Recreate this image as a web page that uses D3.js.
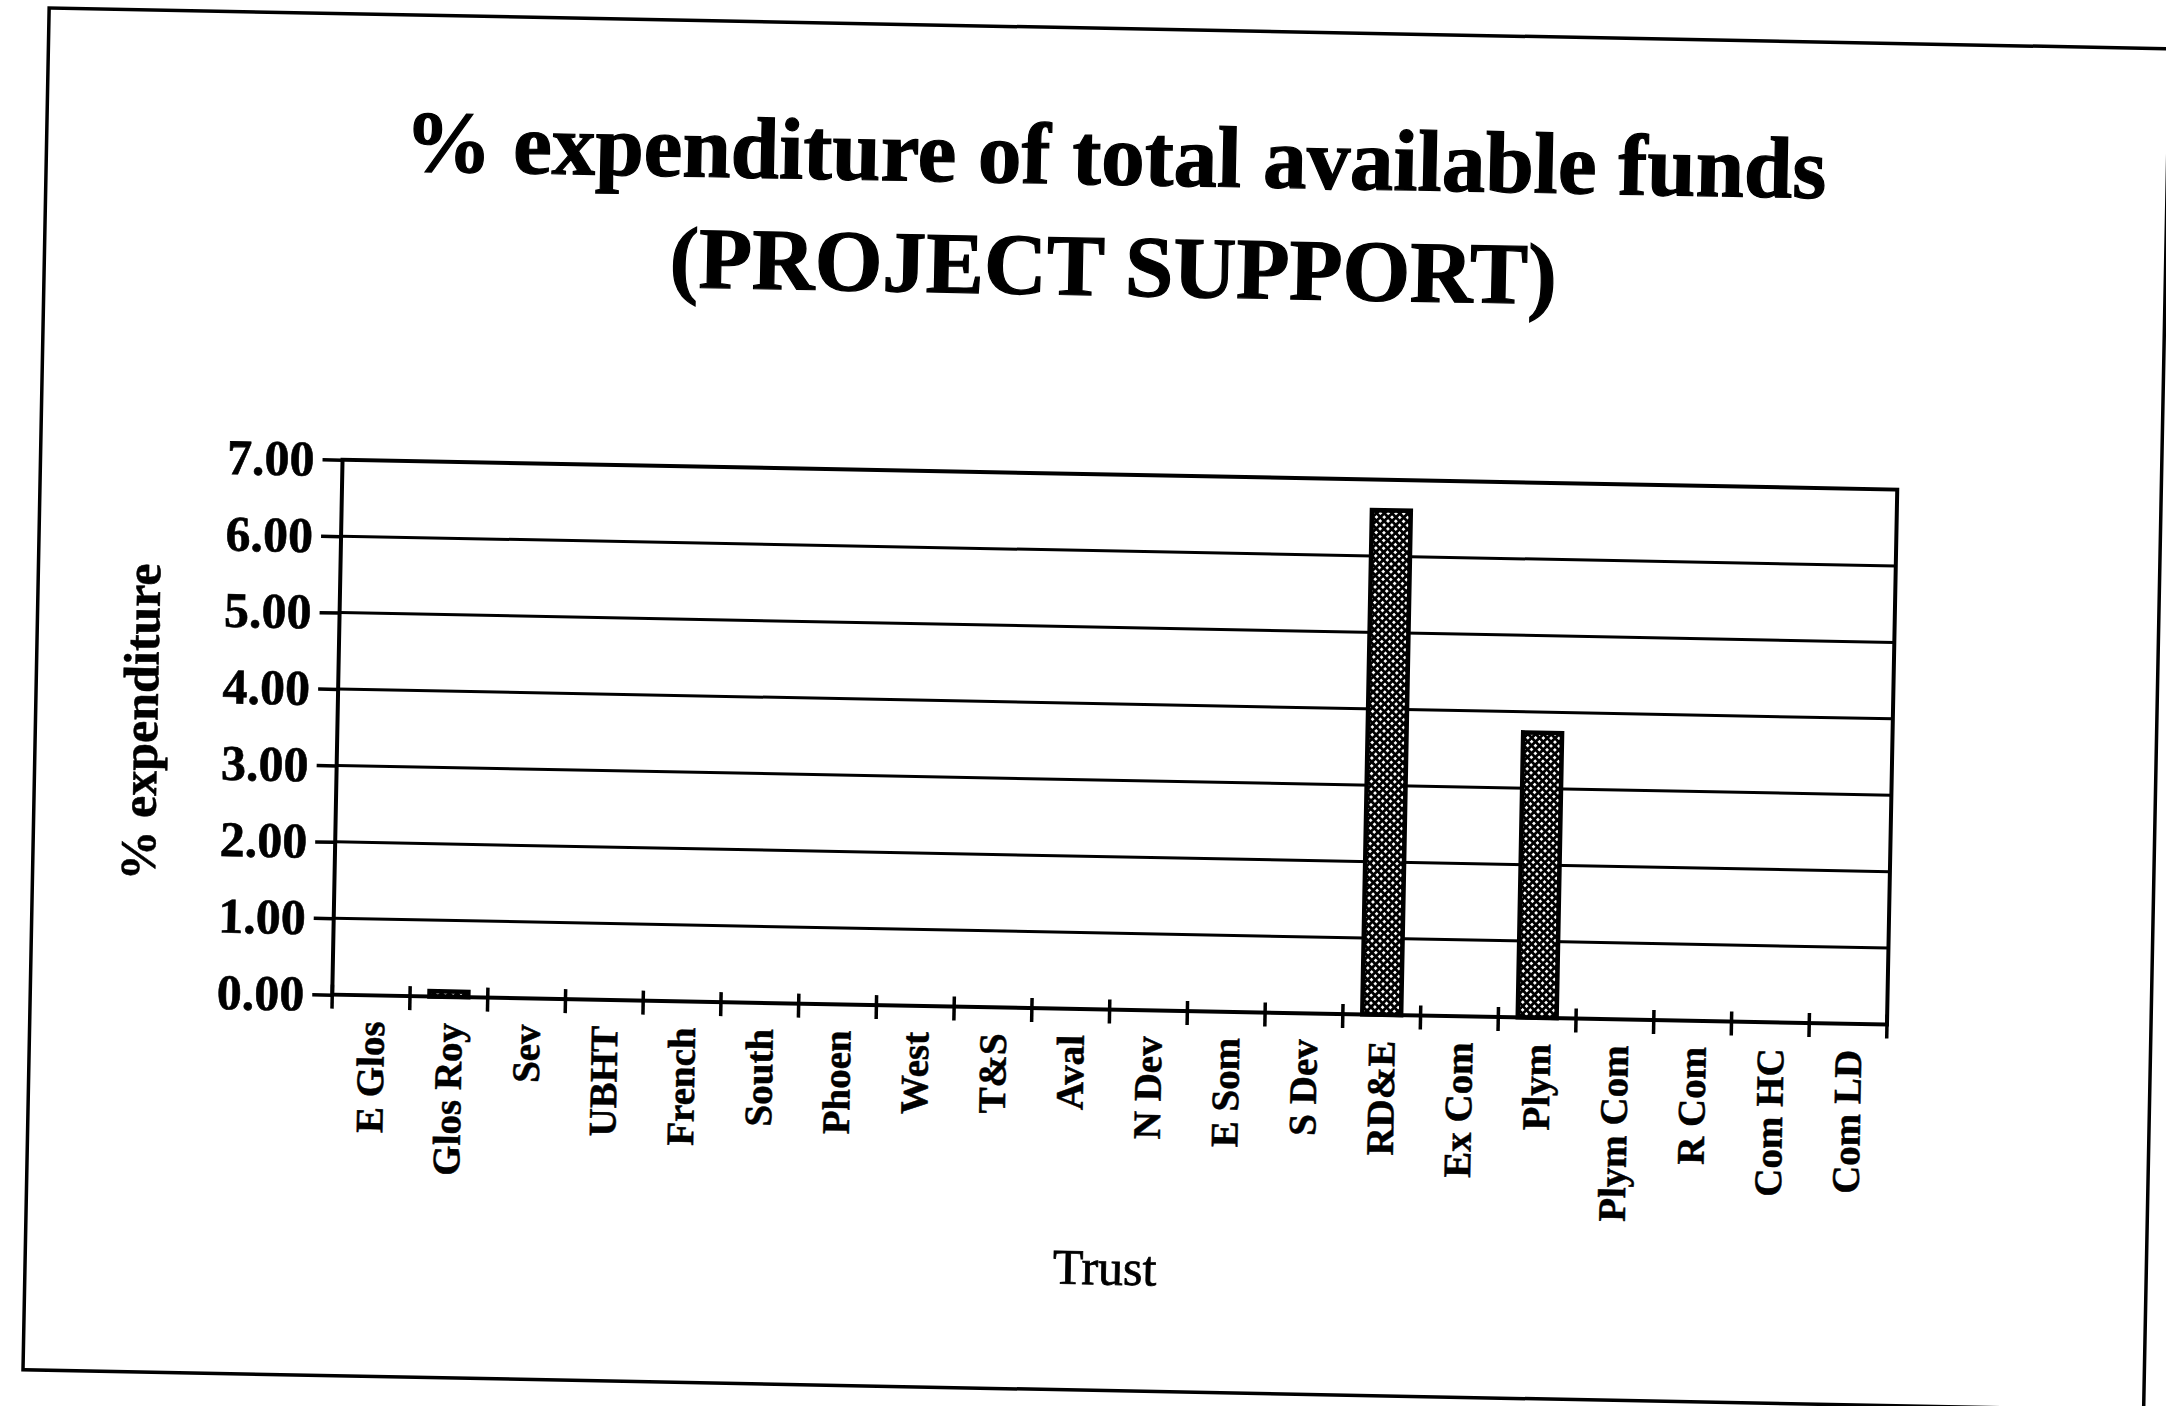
<!DOCTYPE html>
<html>
<head>
<meta charset="utf-8">
<script src="https://cdn.jsdelivr.net/npm/d3@7"></script>
<style>
  body { margin: 0; background: #fff; }
  svg { display: block; }
  text { font-family: "Liberation Serif", "Times New Roman", serif; fill: #000; }
</style>
</head>
<body>
<svg id="chart" width="2166" height="1406"></svg>
<script>
// data
const trusts = ["E Glos", "Glos Roy", "Sev", "UBHT", "French", "South", "Phoen", "West", "T&S", "Aval",
                "N Dev", "E Som", "S Dev", "RD&E", "Ex Com", "Plym", "Plym Com", "R Com", "Com HC", "Com LD"];
const spend = [0, 0.07, 0, 0, 0, 0, 0, 0, 0, 0,
               0, 0, 0, 6.6, 0, 3.73, 0, 0, 0, 0];
const yTicks = [0, 1, 2, 3, 4, 5, 6, 7];
const titleLines = ["% expenditure of total available funds", "(PROJECT SUPPORT)"];
const yTitle = "% expenditure";
const xTitle = "Trust";

const svg = d3.select("#chart");
const plot = { left: 338, right: 1893, top: 474, bottom: 1009 };

// the scan is tilted a little clockwise
const page = svg.append("g").attr("transform", "rotate(1.1 1083 703)");

const defs = svg.append("defs");
const pat = defs.append("pattern")
  .attr("id", "dots")
  .attr("width", 5.5).attr("height", 5.5)
  .attr("patternUnits", "userSpaceOnUse")
  .attr("patternTransform", "rotate(45)");
pat.append("rect").attr("width", 5.5).attr("height", 5.5).attr("fill", "#000");
pat.append("rect").attr("width", 2.7).attr("height", 2.7).attr("fill", "#fff");

// page frame
page.append("rect")
  .attr("x", 36).attr("y", 28)
  .attr("width", 2121).attr("height", 1362)
  .attr("fill", "none").attr("stroke", "#000").attr("stroke-width", 3.5);

const x = d3.scaleBand()
  .domain(trusts)
  .range([plot.left, plot.right])
  .paddingInner(0.5)
  .paddingOuter(0.25);

const y = d3.scaleLinear()
  .domain([0, 7])
  .range([plot.bottom, plot.top]);

const data = trusts.map((t, i) => ({ trust: t, value: spend[i] }));

// titles
page.selectAll("text.title")
  .data(titleLines)
  .enter()
  .append("text")
  .attr("class", "title")
  .attr("x", 1105)
  .attr("y", (d, i) => 184 + i * 111)
  .attr("text-anchor", "middle")
  .attr("font-size", 87)
  .attr("font-weight", "bold")
  .attr("stroke", "#000").attr("stroke-width", 1.2)
  .text(d => d);

// gridlines
page.append("g")
  .selectAll("line")
  .data(yTicks.filter(v => v > 0 && v < 7))
  .enter()
  .append("line")
  .attr("x1", plot.left).attr("x2", plot.right)
  .attr("y1", d => y(d)).attr("y2", d => y(d))
  .attr("stroke", "#000").attr("stroke-width", 3);

// bars
page.append("g")
  .selectAll("rect")
  .data(data.filter(d => d.value > 0))
  .enter()
  .append("rect")
  .attr("x", d => x(d.trust))
  .attr("y", d => y(d.value))
  .attr("width", x.bandwidth())
  .attr("height", d => y(0) - y(d.value))
  .attr("fill", "url(#dots)")
  .attr("stroke", "#000")
  .attr("stroke-width", 4.5);

// plot frame
page.append("rect")
  .attr("x", plot.left).attr("y", plot.top)
  .attr("width", plot.right - plot.left).attr("height", plot.bottom - plot.top)
  .attr("fill", "none").attr("stroke", "#000").attr("stroke-width", 4);

// y axis ticks and labels
const yAxis = d3.axisLeft(y)
  .tickValues(yTicks)
  .tickFormat(d3.format(".2f"))
  .tickSize(20)
  .tickSizeOuter(0)
  .tickPadding(8);

const yG = page.append("g")
  .attr("transform", `translate(${plot.left},0)`)
  .call(yAxis);
yG.select(".domain").remove();
yG.selectAll("line").attr("stroke", "#000").attr("stroke-width", 3.5);
yG.selectAll("text")
  .attr("font-family", "Liberation Serif, serif")
  .attr("font-size", 50)
  .attr("font-weight", "bold")
  .attr("fill", "#000")
  .attr("stroke", "#000").attr("stroke-width", 0.6);

// x axis ticks at band edges
const edges = d3.range(trusts.length + 1).map(i => plot.left + i * x.step());
page.append("g")
  .selectAll("line")
  .data(edges)
  .enter()
  .append("line")
  .attr("x1", d => d).attr("x2", d => d)
  .attr("y1", plot.bottom - 10).attr("y2", plot.bottom + 14)
  .attr("stroke", "#000").attr("stroke-width", 3.5);

// category labels, rotated
page.append("g")
  .selectAll("text")
  .data(trusts)
  .enter()
  .append("text")
  .attr("transform", d => `translate(${x(d) + x.bandwidth() / 2},${plot.bottom + 26}) rotate(-90)`)
  .attr("text-anchor", "end")
  .attr("dy", "0.35em")
  .attr("font-size", 39)
  .attr("font-weight", "bold")
  .attr("stroke", "#000").attr("stroke-width", 0.5)
  .text(d => d);

// axis titles
page.append("text")
  .attr("transform", "translate(158,740) rotate(-90)")
  .attr("text-anchor", "middle")
  .attr("font-size", 50)
  .attr("font-weight", "bold")
  .attr("stroke", "#000").attr("stroke-width", 0.5)
  .text(yTitle);

page.append("text")
  .attr("x", (plot.left + plot.right) / 2)
  .attr("y", 1284)
  .attr("text-anchor", "middle")
  .attr("font-size", 50)
  .attr("stroke", "#000").attr("stroke-width", 0.8)
  .text(xTitle);
</script>
</body>
</html>
